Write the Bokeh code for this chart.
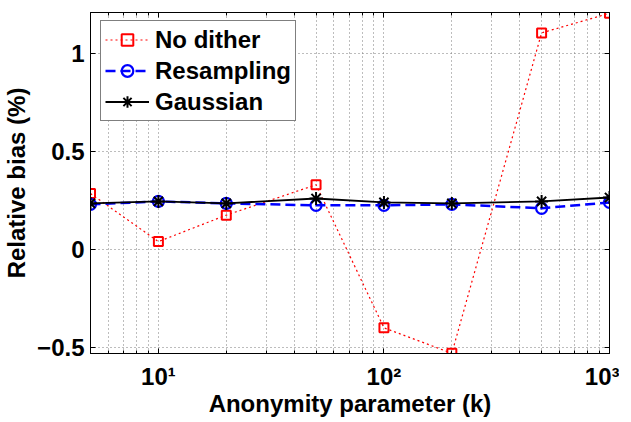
from bokeh.plotting import figure
from bokeh.models import Range1d, FixedTicker, LogAxis, LinearAxis, Legend, LegendItem
from bokeh.embed import file_html
from bokeh.resources import INLINE

# ---- data ----
k = [5, 10, 20, 50, 100, 200, 500, 1000]
no_dither = [0.285, 0.04, 0.175, 0.33, -0.40, -0.53, 1.105, 1.205]
resampling = [0.23, 0.245, 0.235, 0.225, 0.225, 0.23, 0.21, 0.24]
gaussian = [0.235, 0.245, 0.235, 0.26, 0.24, 0.235, 0.245, 0.265]

x_major = [10, 100, 1000]
x_major_labels = {10: "10\u00b9", 100: "10\u00b2", 1000: "10\u00b3"}
x_minor = [5, 6, 7, 8, 9, 20, 30, 40, 50, 60, 70, 80, 90,
           200, 300, 400, 500, 600, 700, 800, 900]
y_major = [-0.5, 0, 0.5, 1]
y_major_labels = {-0.5: "\u22120.5", 0: "0", 0.5: "0.5", 1: "1"}

FONT = "Liberation Sans"
FS = "24px"

p = figure(frame_width=519, frame_height=341, x_axis_type="log",
           x_range=Range1d(5, 1000), y_range=Range1d(-0.531, 1.209),
           output_backend="svg", toolbar_location=None,
           min_border_left=85, min_border_right=10,
           min_border_top=12, min_border_bottom=0)
p.background_fill_color = "white"
p.outline_line_color = "black"
p.outline_line_width = 1

# axes
xa = p.xaxis[0]
xa.ticker = FixedTicker(ticks=x_major, minor_ticks=x_minor)
xa.major_label_overrides = x_major_labels
xa.axis_label = "Anonymity parameter (k)"
ya = p.yaxis[0]
ya.ticker = FixedTicker(ticks=y_major, minor_ticks=[])
ya.major_label_overrides = y_major_labels
ya.axis_label = "Relative bias (%)"

for ax in (xa, ya):
    ax.axis_label_text_font = FONT
    ax.axis_label_text_font_style = "bold"
    ax.axis_label_text_font_size = FS
    ax.major_label_text_font = FONT
    ax.major_label_text_font_style = "bold"
    ax.major_label_text_font_size = FS
    ax.major_label_text_color = "black"
    ax.axis_label_text_color = "black"
    ax.axis_line_color = "black"
    ax.major_tick_line_color = "black"
    ax.minor_tick_line_color = "black"
    ax.major_tick_in = 5
    ax.major_tick_out = 0
    ax.minor_tick_in = 3
    ax.minor_tick_out = 0

xa.major_label_standoff = 9
xa.axis_label_standoff = -3
ya.major_label_standoff = 6
ya.axis_label_standoff = 4

# box ticks on top and right
top = LogAxis(ticker=FixedTicker(ticks=x_major, minor_ticks=x_minor))
right = LinearAxis(ticker=FixedTicker(ticks=y_major, minor_ticks=[]))
for ax in (top, right):
    ax.major_label_text_font_size = "1px"
    ax.major_label_text_alpha = 0
    ax.major_label_standoff = 0
    ax.axis_line_color = "black"
    ax.major_tick_line_color = "black"
    ax.minor_tick_line_color = "black"
    ax.major_tick_in = 5
    ax.major_tick_out = 0
    ax.minor_tick_in = 3
    ax.minor_tick_out = 0
p.add_layout(top, "above")
p.add_layout(right, "right")

# grids
p.xgrid.ticker = FixedTicker(ticks=x_major, minor_ticks=x_minor)
p.ygrid.ticker = FixedTicker(ticks=y_major, minor_ticks=[])
for g in (p.xgrid[0], p.ygrid[0]):
    g.grid_line_color = "#7a7a7a"
    g.grid_line_dash = "1 3"
    g.grid_line_width = 1
p.xgrid.minor_grid_line_color = "#7a7a7a"
p.xgrid.minor_grid_line_dash = "1 3"
p.xgrid.minor_grid_line_width = 1

# series
r1l = p.line(k, no_dither, line_color="#ff0000", line_width=1.2, line_dash="2 3")
r1m = p.scatter(k, no_dither, marker="square", size=9, line_color="#ff0000",
                line_width=2, fill_color=None)
r2l = p.line(k, resampling, line_color="#0000ff", line_width=2.5, line_dash="10 5")
r2m = p.scatter(k, resampling, marker="circle", size=11, line_color="#0000ff",
                line_width=2.2, fill_color=None)
r3l = p.line(k, gaussian, line_color="black", line_width=1.8)
r3m = p.scatter(k, gaussian, marker="asterisk", size=13, line_color="black",
                line_width=2)

legend = Legend(items=[
    LegendItem(label="No dither", renderers=[r1l, r1m]),
    LegendItem(label="Resampling", renderers=[r2l, r2m]),
    LegendItem(label="Gaussian", renderers=[r3l, r3m]),
], location=(10, 232))
legend.label_text_font = FONT
legend.label_text_font_style = "bold"
legend.label_text_font_size = FS
legend.label_text_color = "black"
legend.border_line_color = "black"
legend.border_line_width = 1.3
legend.background_fill_color = "white"
legend.background_fill_alpha = 1
legend.padding = 4
legend.spacing = 2
legend.margin = 0
legend.glyph_width = 44
legend.glyph_height = 29
legend.label_height = 29
legend.label_standoff = 6
p.add_layout(legend, "center")

open("out.html", "w").write(file_html(p, INLINE))
